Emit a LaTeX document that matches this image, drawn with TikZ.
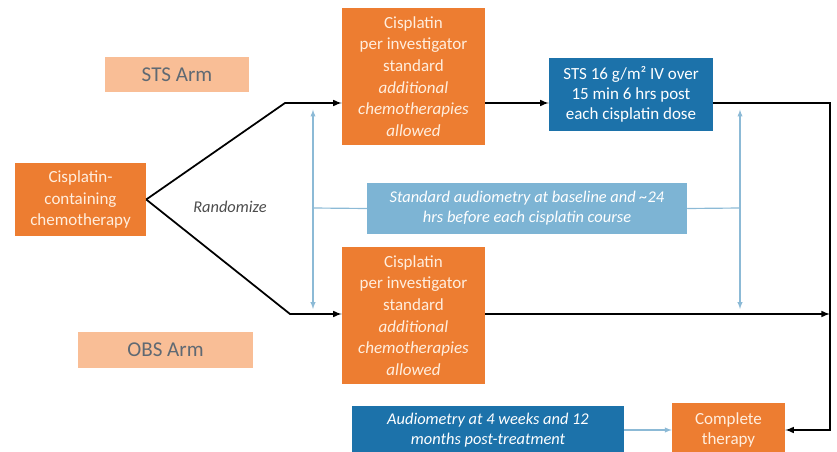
\documentclass[tikz,border=0pt]{standalone}
\usepackage{fontspec}
\setmainfont{Carlito}
\usetikzlibrary{arrows,calc,positioning}
\definecolor{orng}{RGB}{237,125,49}
\definecolor{cream}{RGB}{255,238,222}
\definecolor{dblue}{RGB}{28,114,170}
\definecolor{lblue}{RGB}{125,180,212}
\definecolor{tapblue}{RGB}{140,186,214}
\definecolor{peach}{RGB}{249,190,150}
\definecolor{armgrey}{RGB}{95,105,115}
\begin{document}
\begin{tikzpicture}[
            x=0.03cm, y=-0.03cm,
            every node/.style={ align=center, inner sep=2pt, font=\fontsize{14.5}{17}\selectfont },
            obox/.style={ fill=orng, text=cream, font=\fontsize{14.5}{18.5}\selectfont },
            dbox/.style={ fill=dblue, text=white },
            lbox/.style={ fill=lblue, text=white, font=\fontsize{14}{17}\selectfont\itshape },
            armlabel/.style={ fill=peach, text=armgrey, font=\fontsize{18}{20}\selectfont },
            flow/.style={ line width=1.5pt, -latex },
            tap/.style={ draw=tapblue, line width=1pt },
            tapend/.style={ tap, latex-latex, shorten <=2mm, shorten >=1.5mm }
        ]
        \useasboundingbox (0,0) rectangle (837,452);

        \node[armlabel, minimum width=4.32cm, minimum height=1.05cm] (stsarm) at (177,74.5) {STS Arm};
        \node[armlabel, minimum width=5.25cm, minimum height=1.08cm] (obsarm) at (165.5,350) {OBS Arm};

        \node[obox, minimum width=3.93cm, minimum height=2.19cm] (start) at (80.5,199.5) {Cisplatin-\\containing\\chemotherapy};
        \node[font=\fontsize{14}{17}\selectfont\itshape, text=black!70] (rand) at (230,207) {Randomize};

        \node[obox, minimum width=4.29cm, minimum height=4.11cm] (cistop) at (413.5,76.5) {Cisplatin\\per investigator\\standard\\\textit{additional}\\\textit{chemotherapies}\\\textit{allowed}};
        \node[obox, minimum width=4.29cm, minimum height=4.11cm] (cisbot) at (413.5,315.5) {Cisplatin\\per investigator\\standard\\\textit{additional}\\\textit{chemotherapies}\\\textit{allowed}};

        \node[dbox, minimum width=4.92cm, minimum height=2.19cm] (stsdose) at (631,94.5) {STS 16 g/m² IV over\\15 min 6 hrs post\\each cisplatin dose};
        \node[lbox, minimum width=9.6cm, minimum height=1.53cm] (audiobase) at (527,208.5) {Standard audiometry at baseline and \textasciitilde24\\hrs before each cisplatin course};

        \node[dbox, font=\fontsize{14}{17}\selectfont\itshape, minimum width=8.16cm, minimum height=1.44cm] (audioend) at (488,430) {Audiometry at 4 weeks and 12\\months post-treatment};
        \node[obox, font=\fontsize{14.5}{17}\selectfont, minimum width=3.39cm, minimum height=1.62cm] (complete) at (728.5,430) {Complete\\therapy};

        \coordinate (topbend) at (285,103);
        \coordinate (botbend) at (290,314);
        \coordinate (rail) at (830,103);
        \coordinate (lefttap) at (313,208);
        \coordinate (righttap) at (740,208);

        \draw[flow] (start.east) -- (topbend) -- (topbend -| cistop.west);
        \draw[flow] (start.east) -- (botbend) -- (botbend -| cisbot.west);
        \draw[flow] (topbend -| cistop.east) -- (topbend -| stsdose.west);
        \draw[flow] (topbend -| stsdose.east) -- (rail) |- (complete.east);
        \draw[flow] (botbend -| cisbot.east) -- (botbend -| rail);

        \draw[tap] (audiobase.west) -- (lefttap);
        \draw[tap] (audiobase.east) -- (righttap);
        \draw[tapend] (lefttap |- topbend) -- (lefttap |- botbend);
        \draw[tapend] (righttap |- topbend) -- (righttap |- botbend);
        \draw[tap, -latex] (audioend.east) -- (complete.west);
    \end{tikzpicture}
\end{document}
